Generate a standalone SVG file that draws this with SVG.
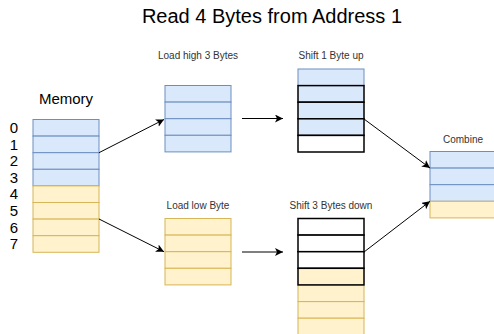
<svg xmlns="http://www.w3.org/2000/svg" width="494" height="334" viewBox="0 0 494 334">
<style>
text{font-family:"Liberation Sans",Arial,sans-serif;fill:#000}
.b{fill:#dae8fc;stroke:#6c8ebf;stroke-width:1}
.y{fill:#fff2cc;stroke:#d6b656;stroke-width:1}
.kb{fill:#dae8fc;stroke:#000;stroke-width:1.5}
.kw{fill:#fff;stroke:#000;stroke-width:1.5}
.ky{fill:#fff2cc;stroke:#000;stroke-width:1.5}
.lbl{font-size:10px;text-anchor:middle;fill:#333}
.num{font-size:15px;text-anchor:middle}
.e{stroke:#000;stroke-width:1;fill:none;marker-end:url(#ar)}
</style>
<defs>
<marker id="ar" markerWidth="10" markerHeight="10" refX="8" refY="4" orient="auto" markerUnits="userSpaceOnUse">
<path d="M0,0 L8,4 L0,8 L2,4 Z" fill="#000"/>
</marker>
</defs>
<rect width="494" height="334" fill="#fff"/>
<text x="272" y="23" font-size="20" text-anchor="middle">Read 4 Bytes from Address 1</text>

<g id="memory">
<text x="66" y="104" font-size="15" text-anchor="middle">Memory</text>
<text class="num" x="14" y="133">0</text>
<text class="num" x="14" y="149.6">1</text>
<text class="num" x="14" y="166.2">2</text>
<text class="num" x="14" y="182.8">3</text>
<text class="num" x="14" y="199.4">4</text>
<text class="num" x="14" y="216">5</text>
<text class="num" x="14" y="232.6">6</text>
<text class="num" x="14" y="249.2">7</text>
<rect class="b" x="33" y="119.5" width="66" height="16.6"/>
<rect class="b" x="33" y="136.1" width="66" height="16.6"/>
<rect class="b" x="33" y="152.7" width="66" height="16.6"/>
<rect class="b" x="33" y="169.3" width="66" height="16.6"/>
<rect class="y" x="33" y="185.9" width="66" height="16.6"/>
<rect class="y" x="33" y="202.5" width="66" height="16.6"/>
<rect class="y" x="33" y="219.1" width="66" height="16.6"/>
<rect class="y" x="33" y="235.7" width="66" height="16.6"/>
</g>

<g id="load-high">
<text class="lbl" x="198" y="59">Load high 3 Bytes</text>
<rect class="b" x="165" y="85.5" width="66" height="16.6"/>
<rect class="b" x="165" y="102.1" width="66" height="16.6"/>
<rect class="b" x="165" y="118.7" width="66" height="16.6"/>
<rect class="b" x="165" y="135.3" width="66" height="16.6"/>
</g>

<g id="shift-up">
<text class="lbl" x="331" y="59">Shift 1 Byte up</text>
<rect class="b" x="298" y="69" width="66" height="16.6"/>
<rect class="kb" x="298" y="85.6" width="66" height="16.6"/>
<rect class="kb" x="298" y="102.2" width="66" height="16.6"/>
<rect class="kb" x="298" y="118.8" width="66" height="16.6"/>
<rect class="kw" x="298" y="135.4" width="66" height="16.6"/>
</g>

<g id="load-low">
<text class="lbl" x="198" y="209">Load low Byte</text>
<rect class="y" x="165" y="218.5" width="66" height="16.6"/>
<rect class="y" x="165" y="235.1" width="66" height="16.6"/>
<rect class="y" x="165" y="251.7" width="66" height="16.6"/>
<rect class="y" x="165" y="268.3" width="66" height="16.6"/>
</g>

<g id="shift-down">
<text class="lbl" x="331" y="209">Shift 3 Bytes down</text>
<rect class="y" x="298" y="285" width="66" height="16.6"/>
<rect class="y" x="298" y="301.6" width="66" height="16.6"/>
<rect class="y" x="298" y="318.2" width="66" height="16.6"/>
<rect class="kw" x="298" y="218.5" width="66" height="16.6"/>
<rect class="kw" x="298" y="235.1" width="66" height="16.6"/>
<rect class="kw" x="298" y="251.7" width="66" height="16.6"/>
<rect class="ky" x="298" y="268.3" width="66" height="16.6"/>
</g>

<g id="combine">
<text class="lbl" x="463" y="143">Combine</text>
<rect class="b" x="430" y="151.5" width="66" height="16.6"/>
<rect class="b" x="430" y="168.1" width="66" height="16.6"/>
<rect class="b" x="430" y="184.7" width="66" height="16.6"/>
<rect class="y" x="430" y="201.3" width="66" height="16.6"/>
</g>

<g id="connectors">
<path class="e" d="M99,152.7 L164,119.5"/>
<path class="e" d="M99,219 L164,251.7"/>
<path class="e" d="M242,118.5 L283,118.5"/>
<path class="e" d="M242,252 L283,252"/>
<path class="e" d="M364,119 L430,168"/>
<path class="e" d="M364,252 L430,201.3"/>
</g>
</svg>
